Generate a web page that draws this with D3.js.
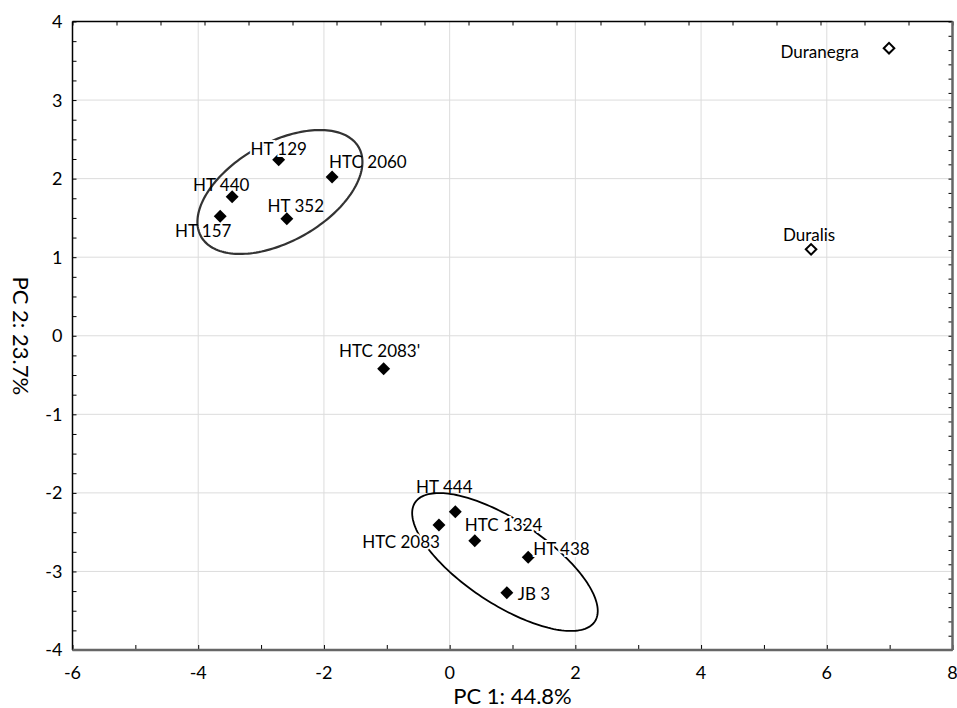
<!DOCTYPE html>
<html lang="en">
<head>
<meta charset="UTF-8">
<title>PCA scatter</title>
<script src="https://cdn.jsdelivr.net/npm/d3@7"></script>
<style>
    body { margin: 0; background: #fff; }
    text { font-family: Lato, "Open Sans", sans-serif; fill: #000; }
</style>
</head>
<body>
<script>
    // genotypes and their scores on the first two components
    const names = ['HT 129', 'HTC 2060', 'HT 440', 'HT 157', 'HT 352', "HTC 2083'",
        'HT 444', 'HTC 2083', 'HTC 1324', 'HT 438', 'JB 3', 'Duranegra', 'Duralis']
    const pc1 = [-2.72, -1.87, -3.46, -3.65, -2.59, -1.05, 0.09, -0.17, 0.40, 1.25, 0.91, 6.99, 5.75]
    const pc2 = [2.24, 2.02, 1.77, 1.52, 1.49, -0.42, -2.24, -2.41, -2.61, -2.82, -3.27, 3.66, 1.10]
    // open diamonds = cultivars
    const cultivar = [false, false, false, false, false, false, false, false, false, false, false, true, true]

    const xTicks = [-6, -4, -2, 0, 2, 4, 6, 8]
    const yTicks = [-4, -3, -2, -1, 0, 1, 2, 3, 4]

    // grouping ellipses: centre + two conjugate half-axes, in PC units
    const ellipseCx = [-2.70, 0.88]
    const ellipseCy = [1.83, -2.88]
    const ellipseU = [[1.254, 0.568], [1.430, -0.757]]
    const ellipseV = [[0.387, -0.547], [-0.367, -0.444]]

    // where each label sits relative to its marker (pixels)
    const labelLayout = {
        'HT 129': [0, -5, 'middle', true],
        'HTC 2060': [-3, -9, 'start', false],
        'HT 440': [-11, -6, 'middle', false],
        'HT 157': [-17, 21, 'middle', false],
        'HT 352': [9, -7, 'middle', false],
        "HTC 2083'": [-4, -12, 'middle', false],
        'HT 444': [-11, -19, 'middle', false],
        'HTC 2083': [1, 23, 'end', true],
        'HTC 1324': [-10, -10, 'start', true],
        'HT 438': [5, -2, 'start', true],
        'JB 3': [11, 7, 'start', false],
        'Duranegra': [-30, 10, 'end', false],
        'Duralis': [-2, -8, 'middle', false]
    }

    const width = 957
    const height = 708
    const margin = { top: 21.5, right: 4.5, bottom: 58, left: 72.5 }

    const svg = d3.select('body')
        .append('svg')
        .attr('width', width)
        .attr('height', height)

    const x = d3.scaleLinear()
        .domain([-6, 8])
        .range([margin.left, width - margin.right])

    const y = d3.scaleLinear()
        .domain([-4, 4])
        .range([height - margin.bottom, margin.top])

    const x0 = x.range()[0], x1 = x.range()[1]
    const y0 = y.range()[1], y1 = y.range()[0]

    // grid
    svg.append('g')
        .selectAll('line')
        .data(xTicks.slice(1, -1))
        .enter()
        .append('line')
        .attr('x1', (d) => x(d)).attr('x2', (d) => x(d))
        .attr('y1', y0).attr('y2', y1)
        .attr('stroke', '#dcdcdc')
        .attr('stroke-width', 1)

    svg.append('g')
        .selectAll('line')
        .data(yTicks.slice(1, -1))
        .enter()
        .append('line')
        .attr('y1', (d) => y(d)).attr('y2', (d) => y(d))
        .attr('x1', x0).attr('x2', x1)
        .attr('stroke', '#dcdcdc')
        .attr('stroke-width', 1)

    // bottom axis - ticks every unit, pointing inwards
    const bottomAxis = svg.append('g')
        .attr('transform', `translate(0,${y1})`)
        .call(d3.axisBottom(x).ticks(14).tickSize(-5).tickFormat(''))
    bottomAxis.select('.domain').remove()
    bottomAxis.selectAll('line').attr('stroke', '#000')

    // left axis - ticks every 0.25
    const leftAxis = svg.append('g')
        .attr('transform', `translate(${x0},0)`)
        .call(d3.axisLeft(y).tickValues(d3.range(-4, 4.01, 0.25)).tickSize(-4).tickFormat(''))
    leftAxis.select('.domain').remove()
    leftAxis.selectAll('line').attr('stroke', '#000')

    // secondary axes (own scales)
    const xTop = d3.scaleLinear().domain([0, 20]).range([x0, x1])
    const topAxis = svg.append('g')
        .attr('transform', `translate(0,${y0})`)
        .call(d3.axisTop(xTop).ticks(20).tickSize(-4).tickFormat(''))
    topAxis.select('.domain').remove()
    topAxis.selectAll('line').attr('stroke', '#000')

    const yRight = d3.scaleLinear().domain([0, 44]).range([y1, y0])
    const rightAxis = svg.append('g')
        .attr('transform', `translate(${x1},0)`)
        .call(d3.axisRight(yRight).ticks(44).tickSize(-4).tickFormat(''))
    rightAxis.select('.domain').remove()
    rightAxis.selectAll('line').attr('stroke', '#000')

    // frame
    svg.append('line').attr('x1', x0).attr('x2', x1).attr('y1', y0).attr('y2', y0)
        .attr('stroke', '#000').attr('stroke-width', 1.5)
    svg.append('line').attr('x1', x0).attr('x2', x0).attr('y1', y0).attr('y2', y1)
        .attr('stroke', '#000').attr('stroke-width', 1.5)
    svg.append('line').attr('x1', x0).attr('x2', x1).attr('y1', y1).attr('y2', y1)
        .attr('stroke', '#666').attr('stroke-width', 2.5)
    svg.append('line').attr('x1', x1).attr('x2', x1).attr('y1', y0).attr('y2', y1)
        .attr('stroke', '#666').attr('stroke-width', 2.5)

    // tick labels
    svg.append('g')
        .selectAll('text')
        .data(xTicks)
        .enter()
        .append('text')
        .attr('x', (d) => x(d))
        .attr('y', y1 + 29)
        .attr('text-anchor', 'middle')
        .style('font-size', '18px')
        .text((d) => d)

    svg.append('g')
        .selectAll('text')
        .data(yTicks)
        .enter()
        .append('text')
        .attr('x', x0 - 10)
        .attr('y', (d) => y(d))
        .attr('dy', '0.36em')
        .attr('text-anchor', 'end')
        .style('font-size', '18px')
        .text((d) => d)

    // axis titles
    svg.append('text')
        .attr('x', (x0 + x1) / 2)
        .attr('y', 704)
        .attr('text-anchor', 'middle')
        .style('font-size', '22px')
        .text('PC 1: 44.8%')

    svg.append('text')
        .attr('transform', `translate(13,${(y0 + y1) / 2}) rotate(90)`)
        .attr('text-anchor', 'middle')
        .style('font-size', '22px')
        .text('PC 2: 23.7%')

    // ellipses
    const ellipseLine = d3.line().curve(d3.curveLinearClosed)
    const ellipseStyle = [['#333', 2.2], ['#000', 1.8]]
    ellipseCx.forEach((cx, i) => {
        const pts = d3.range(0, 2 * Math.PI, Math.PI / 90).map((t) => [
            x(cx + ellipseU[i][0] * Math.cos(t) + ellipseV[i][0] * Math.sin(t)),
            y(ellipseCy[i] + ellipseU[i][1] * Math.cos(t) + ellipseV[i][1] * Math.sin(t))
        ])
        svg.append('path')
            .attr('d', ellipseLine(pts))
            .attr('fill', 'none')
            .attr('stroke', ellipseStyle[i][0])
            .attr('stroke-width', ellipseStyle[i][1])
    })

    // points
    const rows = names.map((n, i) => ({ name: n, pc1: pc1[i], pc2: pc2[i], cultivar: cultivar[i] }))

    svg.append('g')
        .selectAll('path')
        .data(rows)
        .enter()
        .append('path')
        .attr('d', (d) => d3.symbol(d3.symbolSquare, d.cultivar ? 56 : 84)())
        .attr('transform', (d) => `translate(${x(d.pc1)},${y(d.pc2)}) rotate(45)`)
        .attr('fill', (d) => d.cultivar ? '#fff' : '#000')
        .attr('stroke', '#000')
        .attr('stroke-width', (d) => d.cultivar ? 2 : 0)

    // labels
    svg.append('g')
        .selectAll('text')
        .data(rows)
        .enter()
        .append('text')
        .attr('x', (d) => x(d.pc1) + labelLayout[d.name][0])
        .attr('y', (d) => y(d.pc2) + labelLayout[d.name][1])
        .attr('text-anchor', (d) => labelLayout[d.name][2])
        .style('font-size', '17px')
        .style('paint-order', 'stroke')
        .style('stroke', (d) => labelLayout[d.name][3] ? '#fff' : 'none')
        .style('stroke-width', 4)
        .text((d) => d.name)
</script>
</body>
</html>
